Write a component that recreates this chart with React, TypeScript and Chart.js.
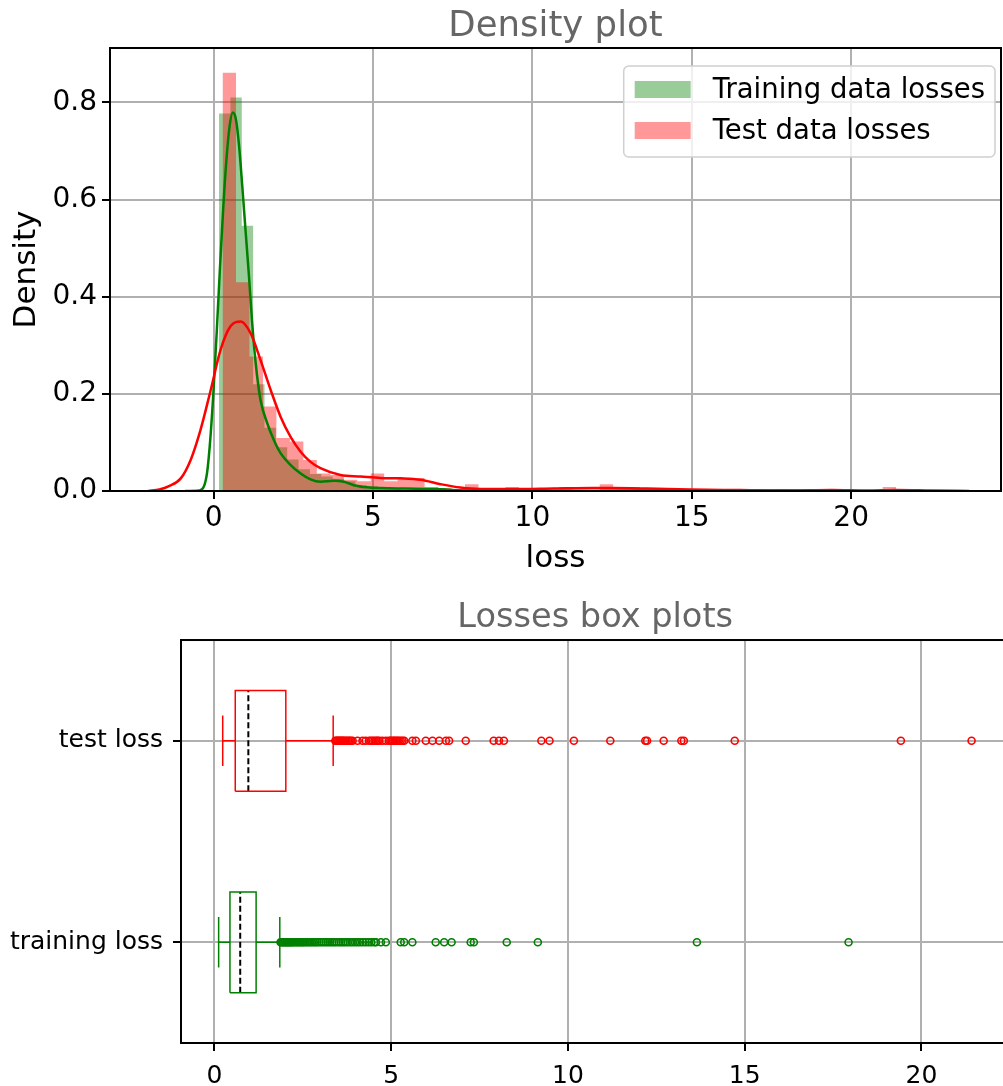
import React, { useEffect, useRef } from 'react';
import { Chart, registerables } from 'chart.js';

Chart.register(...registerables);

const FONT = "'DejaVu Sans', sans-serif";
Chart.defaults.font.family = FONT;

// ---------- Density plot data ----------
const legendLabels = ['Training data losses', 'Test data losses'];

const trainBinStart = 0.17;
const trainBinEnd = 18.0;
const trainHist = [
  0.777, 0.81, 0.546, 0.22, 0.13, 0.09, 0.065, 0.045, 0.035, 0.03,
  0.025, 0.02, 0.012, 0.01, 0.008, 0.006, 0, 0.006, 0.003, 0.006,
  0.003, 0, 0.003, 0, 0, 0.003, 0, 0, 0, 0,
  0, 0, 0, 0, 0, 0, 0, 0.003, 0, 0,
  0, 0, 0, 0, 0, 0, 0, 0, 0, 0.003,
];

const testBinStart = 0.28;
const testBinEnd = 21.41;
const testHist = [
  0.861, 0.43, 0.277, 0.174, 0.109, 0.102, 0.064, 0.036, 0.033, 0.023,
  0.02, 0.036, 0.02, 0.025, 0.027, 0.008, 0.006, 0.004, 0.014, 0.004,
  0, 0.008, 0, 0.004, 0, 0.008, 0, 0, 0.014, 0.008,
  0.008, 0, 0, 0, 0.004, 0, 0, 0, 0, 0,
  0, 0, 0, 0, 0, 0.004, 0, 0, 0, 0.008,
];

const trainKdeX = [
  -0.9, -0.45, -0.3, -0.2, -0.1, 0.0, 0.1, 0.2, 0.3, 0.4, 0.5, 0.6, 0.7, 0.8, 0.9,
  1.0, 1.11, 1.21, 1.32, 1.47, 1.68, 1.89, 2.1, 2.41, 2.73, 3.04, 3.35, 3.77, 4.09,
  4.4, 4.82, 5.24, 6.0, 7.0, 7.5, 8.0, 9.0, 10.0, 12.0, 13.65, 15.0, 17.94, 19.5,
];
const trainKdeY = [
  0, 0.001, 0.01, 0.04, 0.11, 0.21, 0.33, 0.46, 0.58, 0.68, 0.75, 0.779, 0.765, 0.71, 0.627,
  0.538, 0.442, 0.346, 0.263, 0.188, 0.14, 0.105, 0.078, 0.054, 0.036, 0.024, 0.019, 0.021, 0.019,
  0.012, 0.0076, 0.006, 0.005, 0.004, 0.002, 0.001, 0.001, 0.0005, 0, 0.001, 0, 0.001, 0,
];

const testKdeX = [
  -2.05, -1.7, -1.4, -1.03, -0.72, -0.41, -0.09, 0.22, 0.53, 0.85, 1.16, 1.47, 1.79,
  2.1, 2.41, 2.73, 3.04, 3.35, 3.98, 4.61, 5.24, 5.86, 6.49, 7.12, 7.74, 8.37, 9.4,
  10.66, 11.9, 12.5, 13.6, 14.95, 16.5, 18.0, 19.4, 20.5, 21.4, 22.5, 23.7,
];
const testKdeY = [
  0, 0.003, 0.01, 0.026, 0.064, 0.126, 0.208, 0.291, 0.339, 0.349, 0.325, 0.27, 0.208,
  0.153, 0.112, 0.081, 0.06, 0.047, 0.033, 0.03, 0.027, 0.026, 0.023, 0.014, 0.007, 0.004, 0.004,
  0.005, 0.006, 0.006, 0.005, 0.003, 0.002, 0.001, 0.002, 0.001, 0.002, 0.001, 0,
];

const densityTicks = [0, 0.2, 0.4, 0.6, 0.8];
const lossTicks = [0, 5, 10, 15, 20];

// ---------- Box plot data ----------
const boxLabels = ['training loss', 'test loss'];
// [lower whisker, q1, median, q3, upper whisker]
const trainStats = [0.12, 0.44, 0.73, 1.18, 1.85];
const testStats = [0.235, 0.59, 0.96, 2.02, 3.36];

const trainOutliers = [
  1.87, 1.9, 1.93, 1.96, 1.99, 2.02, 2.05, 2.08, 2.11, 2.14, 2.17, 2.2, 2.24, 2.28, 2.32,
  2.36, 2.4, 2.44, 2.48, 2.52, 2.56, 2.61, 2.66, 2.71, 2.76, 2.81, 2.86, 2.91, 2.97, 3.03,
  3.09, 3.15, 3.21, 3.27, 3.33, 3.39, 3.45, 3.52, 3.58, 3.64, 3.7, 3.77, 3.84, 3.91, 3.98,
  4.05, 4.12, 4.2, 4.28, 4.36, 4.44, 4.52, 4.57, 4.71, 4.85, 5.27, 5.37, 5.6, 6.26, 6.5,
  6.71, 7.25, 7.34, 8.27, 9.15, 13.65, 17.94,
];
const testOutliers = [
  3.42, 3.45, 3.48, 3.51, 3.54, 3.57, 3.6, 3.63, 3.66, 3.7, 3.74, 3.78, 3.82, 3.86, 3.91,
  4.05, 4.19, 4.28, 4.38, 4.43, 4.48, 4.53, 4.58, 4.62, 4.66, 4.75, 4.85, 4.94, 4.98, 5.02,
  5.06, 5.1, 5.14, 5.18, 5.22, 5.27, 5.32, 5.37, 5.6, 5.7, 5.98, 6.17, 6.36, 6.55, 6.64,
  7.11, 7.9, 8.05, 8.19, 9.25, 9.48, 10.17, 11.2, 12.19, 12.24, 12.71, 13.21, 13.28, 14.72,
  19.42, 21.42,
];

// ---------- helpers ----------
function histSteps(start: number, end: number, heights: number[]) {
  const w = (end - start) / heights.length;
  const pts: { x: number; y: number }[] = [{ x: start, y: 0 }];
  heights.forEach((h, i) => pts.push({ x: start + i * w, y: h }));
  pts.push({ x: end, y: 0 });
  return pts;
}
function zip(xs: number[], ys: number[]) {
  return xs.map((x, i) => ({ x, y: ys[i] }));
}

const GRID = '#b0b0b0';

const framePlugin = {
  id: 'frame',
  afterDraw(chart: any) {
    const { ctx, chartArea: a } = chart;
    ctx.save();
    ctx.strokeStyle = '#000';
    ctx.lineWidth = 2;
    ctx.strokeRect(a.left, a.top, a.right - a.left, a.bottom - a.top);
    ctx.restore();
  },
};

const legendPlugin = {
  id: 'frameLegend',
  afterDatasetsDraw(chart: any) {
    const { ctx, chartArea } = chart;
    const items = chart.data.datasets.filter((d: any) => !!d.label);
    ctx.save();
    ctx.font = `27.5px ${FONT}`;
    const textW = Math.max(...items.map((d: any) => ctx.measureText(d.label).width));
    const patchW = 56, patchH = 17, padL = 11, gap = 22, padR = 10, rowH = 41, padT = 15;
    const w = padL + patchW + gap + textW + padR;
    const h = 91;
    const x = chartArea.right - 6 - w;
    const y = chartArea.top + 18;
    ctx.beginPath();
    if (ctx.roundRect) ctx.roundRect(x, y, w, h, 5);
    else ctx.rect(x, y, w, h);
    ctx.fillStyle = 'rgba(255,255,255,0.8)';
    ctx.fill();
    ctx.strokeStyle = '#d0d0d0';
    ctx.lineWidth = 1.5;
    ctx.stroke();
    items.forEach((d: any, i: number) => {
      const py = y + padT + i * rowH;
      ctx.fillStyle = d.backgroundColor;
      ctx.fillRect(x + padL, py, patchW, patchH);
      ctx.fillStyle = '#000';
      ctx.textBaseline = 'middle';
      ctx.textAlign = 'left';
      ctx.fillText(d.label, x + padL + patchW + gap, py + patchH / 2 + 1);
    });
    ctx.restore();
  },
};

function axisCommon() {
  return {
    grid: { color: GRID, lineWidth: 2, drawTicks: true, tickLength: 8, tickColor: '#000', tickWidth: 2 },
    border: { display: true, color: '#000', width: 2 },
  };
}

export default function App() {
  const topRef = useRef<HTMLCanvasElement>(null);
  const botRef = useRef<HTMLCanvasElement>(null);

  useEffect(() => {
    document.body.style.margin = '0';
    document.body.style.overflow = 'hidden';

    const top = new Chart(topRef.current!, {
      type: 'line',
      data: {
        datasets: [
          {
            label: legendLabels[0],
            data: histSteps(trainBinStart, trainBinEnd, trainHist),
            stepped: 'before',
            fill: 'origin',
            backgroundColor: 'rgba(0,128,0,0.4)',
            borderColor: 'rgba(0,0,0,0)',
            borderWidth: 0,
            pointRadius: 0,
            order: 4,
          } as any,
          {
            label: legendLabels[1],
            data: histSteps(testBinStart, testBinEnd, testHist),
            stepped: 'before',
            fill: 'origin',
            backgroundColor: 'rgba(255,0,0,0.4)',
            borderColor: 'rgba(0,0,0,0)',
            borderWidth: 0,
            pointRadius: 0,
            order: 3,
          },
          {
            data: zip(trainKdeX, trainKdeY),
            borderColor: '#008000',
            borderWidth: 2.5,
            pointRadius: 0,
            fill: false,
            cubicInterpolationMode: 'monotone',
            order: 2,
          },
          {
            data: zip(testKdeX, testKdeY),
            borderColor: '#ff0000',
            borderWidth: 2.5,
            pointRadius: 0,
            fill: false,
            cubicInterpolationMode: 'monotone',
            order: 1,
          },
        ],
      },
      options: {
        animation: false,
        responsive: false,
        events: [],
        layout: { padding: { left: 0, right: 2, top: 0, bottom: 0 } },
        plugins: {
          legend: { display: false },
          tooltip: { enabled: false },
          title: {
            display: true,
            text: 'Density plot',
            color: '#666',
            fullSize: false,
            font: { family: FONT, size: 35.5, weight: 'normal', lineHeight: 1.2 },
            padding: { top: 5, bottom: 0.4 },
          },
        },
        scales: {
          x: {
            type: 'linear',
            min: -3.25,
            max: 24.7,
            ...axisCommon(),
            afterBuildTicks: (s: any) => { s.ticks = lossTicks.map((v) => ({ value: v })); },
            afterFit: (s: any) => { s.height = 89; },
            ticks: { color: '#000', font: { family: FONT, size: 28 }, padding: 3, maxRotation: 0, callback: (v: any) => String(v) },
            title: { display: true, text: 'loss', color: '#000', font: { family: FONT, size: 31, lineHeight: 1.2 }, padding: { top: 0, bottom: 2 } },
          },
          y: {
            type: 'linear',
            min: 0,
            max: 0.912,
            ...axisCommon(),
            afterBuildTicks: (s: any) => { s.ticks = densityTicks.map((v) => ({ value: v })); },
            afterFit: (s: any) => { s.width = 110; },
            ticks: { color: '#000', font: { family: FONT, size: 28 }, padding: 5, callback: (v: any) => Number(v).toFixed(1) },
            title: { display: true, text: 'Density', color: '#000', font: { family: FONT, size: 31, lineHeight: 1.2 }, padding: { top: 8, bottom: 0 } },
          },
        },
      } as any,
      plugins: [legendPlugin, framePlugin],
    });

    const line = (pts: { x: number; y: number }[], color: string, extra: any = {}) => ({
      data: pts,
      showLine: true,
      borderColor: color,
      borderWidth: 1.5,
      pointRadius: 0,
      fill: false,
      tension: 0,
      ...extra,
    });

    const boxDatasets = (stats: number[], row: number, color: string, outliers: number[]) => {
      const [wl, q1, med, q3, wh] = stats;
      const hb = 0.25;
      const hc = 0.125;
      return [
        line([{ x: wl, y: row }, { x: q1, y: row }], color),
        line([{ x: q3, y: row }, { x: wh, y: row }], color),
        line([{ x: wl, y: row - hc }, { x: wl, y: row + hc }], color),
        line([{ x: wh, y: row - hc }, { x: wh, y: row + hc }], color),
        line(
          [
            { x: q1, y: row - hb },
            { x: q3, y: row - hb },
            { x: q3, y: row + hb },
            { x: q1, y: row + hb },
            { x: q1, y: row - hb },
          ],
          color,
        ),
        line([{ x: med, y: row - hb }, { x: med, y: row + hb }], '#000', { borderDash: [6, 3], borderWidth: 2 }),
        {
          data: outliers.map((v) => ({ x: v, y: row })),
          showLine: false,
          pointRadius: 3.5,
          pointBorderWidth: 1.6,
          pointBorderColor: color,
          pointBackgroundColor: 'rgba(0,0,0,0)',
        },
      ];
    };

    const bot = new Chart(botRef.current!, {
      type: 'scatter',
      data: {
        datasets: [
          ...boxDatasets(testStats, 1, '#ff0000', testOutliers),
          ...boxDatasets(trainStats, 0, '#008000', trainOutliers),
        ],
      },
      options: {
        animation: false,
        responsive: false,
        events: [],
        layout: { padding: { left: 0, right: 4.4, top: 0, bottom: 0 } },
        plugins: {
          legend: { display: false },
          tooltip: { enabled: false },
          title: {
            display: true,
            text: 'Losses box plots',
            color: '#666',
            fullSize: false,
            font: { family: FONT, size: 33.6, weight: 'normal', lineHeight: 1.2 },
            padding: { top: 18, bottom: 1.7 },
          },
        },
        scales: {
          x: {
            type: 'linear',
            min: -0.945,
            max: 22.49,
            ...axisCommon(),
            afterBuildTicks: (s: any) => { s.ticks = lossTicks.map((v) => ({ value: v })); },
            afterFit: (s: any) => { s.height = 43; },
            ticks: { color: '#000', font: { family: FONT, size: 25 }, padding: 10, maxRotation: 0, callback: (v: any) => String(v) },
          },
          y: {
            type: 'linear',
            min: -0.5,
            max: 1.5,
            ...axisCommon(),
            afterBuildTicks: (s: any) => { s.ticks = [0, 1].map((v) => ({ value: v })); },
            afterFit: (s: any) => { s.width = 181; },
            ticks: { color: '#000', font: { family: FONT, size: 25 }, padding: 10, callback: (v: any) => boxLabels[Number(v)] ?? '' },
          },
        },
      } as any,
      plugins: [framePlugin],
    });

    return () => {
      top.destroy();
      bot.destroy();
    };
  }, []);

  return (
    <div style={{ position: 'relative', width: 1003, height: 1086, overflow: 'hidden', background: '#fff' }}>
      <canvas ref={topRef} width={1003} height={580} style={{ position: 'absolute', left: 0, top: 0, display: 'block' }} />
      <canvas ref={botRef} width={1015} height={506} style={{ position: 'absolute', left: 0, top: 580, display: 'block' }} />
    </div>
  );
}
